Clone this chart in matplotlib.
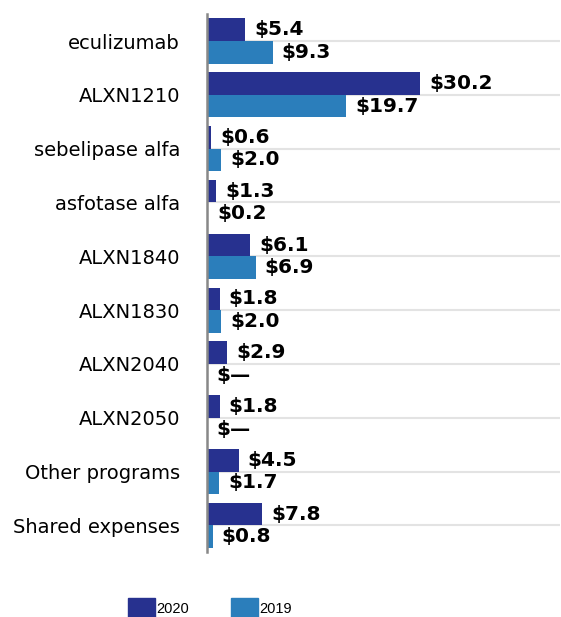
import matplotlib
matplotlib.use("Agg")
import matplotlib.pyplot as plt
from matplotlib.patches import Patch

# 数据
programs = ["eculizumab", "ALXN1210", "sebelipase alfa", "asfotase alfa", "ALXN1840",
            "ALXN1830", "ALXN2040", "ALXN2050", "Other programs", "Shared expenses"]
vals_2020 = [5.4, 30.2, 0.6, 1.3, 6.1, 1.8, 2.9, 1.8, 4.5, 7.8]
vals_2019 = [9.3, 19.7, 2.0, 0.2, 6.9, 2.0, 0.0, 0.0, 1.7, 0.8]
labels_2020 = ["$5.4", "$30.2", "$0.6", "$1.3", "$6.1", "$1.8", "$2.9", "$1.8", "$4.5", "$7.8"]
labels_2019 = ["$9.3", "$19.7", "$2.0", "$0.2", "$6.9", "$2.0", "$\u2014", "$\u2014", "$1.7", "$0.8"]

c2020 = "#27318F"
c2019 = "#2B7EBB"

fig = plt.figure(figsize=(5.61, 6.17), dpi=100)
ax = fig.add_axes([0.369, 0.105, 0.629, 0.872])

h = 0.42
ys = list(range(len(programs)))
y20 = [y - h / 2 for y in ys]
y19 = [y + h / 2 for y in ys]

# 网格线（类别中心）
for y in ys:
    ax.axhline(y, color="#e3e3e3", lw=1.5, zorder=0)

ax.barh(y20, vals_2020, height=h, color=c2020, zorder=2)
ax.barh(y19, vals_2019, height=h, color=c2019, zorder=2)

for y, v, t in zip(y20, vals_2020, labels_2020):
    ax.annotate(t, (v, y), xytext=(6.5, 0), textcoords="offset points",
                ha="left", va="center", fontsize=14.5, fontweight="bold", color="black")
for y, v, t in zip(y19, vals_2019, labels_2019):
    ax.annotate(t, (v, y), xytext=(6.5, 0), textcoords="offset points",
                ha="left", va="center", fontsize=14.5, fontweight="bold", color="black")

ax.set_xlim(0, 50)
ax.set_ylim(9.5, -0.5)
ax.set_yticks(ys)
ax.set_yticklabels(programs, fontsize=14, color="black")
ax.tick_params(axis="y", length=0, pad=19.5)
ax.set_xticks([])

for s in ["top", "right", "bottom"]:
    ax.spines[s].set_visible(False)
ax.spines["left"].set_color("#888888")
ax.spines["left"].set_linewidth(1.8)

handles = [Patch(color=c2020, label="2020"), Patch(color=c2019, label="2019")]
fig.legend(handles=handles, loc="center left", bbox_to_anchor=(128 / 561, 1 - 608 / 617),
           ncol=2, frameon=False, prop={"family": "Liberation Sans", "size": 10.5},
           handlelength=1.85, handleheight=1.75, handletextpad=0.1, columnspacing=2.85,
           borderaxespad=0, borderpad=0)

fig.savefig("out.png", dpi=100)
